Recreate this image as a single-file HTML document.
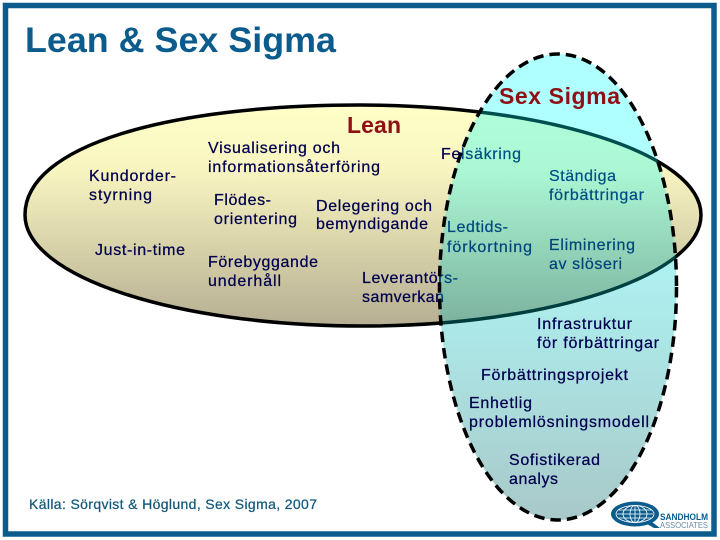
<!DOCTYPE html>
<html><head><meta charset="utf-8"><style>
html,body{margin:0;padding:0;background:#fff}
svg{display:block}
text{font-family:"Liberation Sans",sans-serif;}
.t{font-size:16px;fill:#00004f;stroke:#00004f;stroke-width:.25px}
.r{font-size:23px;font-weight:bold;fill:#8f0f16}
</style></head><body>
<svg width="720" height="540" viewBox="0 0 720 540" xmlns="http://www.w3.org/2000/svg">
<defs>
<linearGradient id="a" x1="0" y1="0" x2="0" y2="1"><stop offset="0" stop-color="#ffffc8"/><stop offset=".3" stop-color="#f8f4c0"/><stop offset="1" stop-color="#b6ae92"/></linearGradient>
<linearGradient id="b" x1="0" y1="0" x2="0" y2="1"><stop offset="0" stop-color="rgb(0,255,255)" stop-opacity=".31"/><stop offset=".25" stop-color="rgb(0,255,255)" stop-opacity=".31"/><stop offset="1" stop-color="rgb(0,94,94)" stop-opacity=".34"/></linearGradient>
</defs>
<rect x="5.500" y="5.500" width="708.500" height="528.500" fill="#fff" stroke="#0b5c8c" stroke-width="5.500"/>
<text x="25" y="52" font-size="35" font-weight="bold" fill="#0b5c8c" textLength="311" lengthAdjust="spacingAndGlyphs">Lean &amp; Sex Sigma</text>
<path d="M25 215C25 145 170 105 360 105C547 105 701 154 701 215C701 276 547 326 363 326C174 326 25 276 25 215Z" fill="url(#a)" stroke="#000" stroke-width="3.500"/>
<text class="r" x="347" y="133" textLength="54">Lean</text>
<text class="t" x="208" y="153" textLength="132">Visualisering och</text>
<text class="t" x="208" y="172" textLength="172">informationsåterföring</text>
<text class="t" x="441" y="159" textLength="80">Felsäkring</text>
<text class="t" x="549" y="181" textLength="67">Ständiga</text>
<text class="t" x="549" y="200" textLength="95">förbättringar</text>
<text class="t" x="89" y="181" textLength="87">Kundorder-</text>
<text class="t" x="89" y="200" textLength="63">styrning</text>
<text class="t" x="95" y="255" textLength="90">Just-in-time</text>
<text class="t" x="214" y="205" textLength="57">Flödes-</text>
<text class="t" x="214" y="224" textLength="83">orientering</text>
<text class="t" x="316" y="211" textLength="116">Delegering och</text>
<text class="t" x="316" y="229" textLength="112">bemyndigande</text>
<text class="t" x="447" y="232" textLength="61">Ledtids-</text>
<text class="t" x="447" y="252" textLength="85">förkortning</text>
<text class="t" x="549" y="250" textLength="86">Eliminering</text>
<text class="t" x="549" y="269" textLength="73">av slöseri</text>
<text class="t" x="208" y="267" textLength="110">Förebyggande</text>
<text class="t" x="208" y="286" textLength="73">underhåll</text>
<text class="t" x="362" y="283" textLength="96">Leverantörs-</text>
<text class="t" x="362" y="302" textLength="82">samverkan</text>
<ellipse cx="558" cy="287" rx="118.500" ry="233" fill="url(#b)"/>
<ellipse cx="558" cy="287" rx="118.500" ry="233" fill="none" stroke="#000" stroke-width="3.500" stroke-dasharray="10.500 6"/>
<text class="r" x="499" y="104" textLength="121">Sex Sigma</text>
<text class="t" x="537" y="329" textLength="95">Infrastruktur</text>
<text class="t" x="537" y="348" textLength="122">för förbättringar</text>
<text class="t" x="481" y="380" textLength="147">Förbättringsprojekt</text>
<text class="t" x="469" y="408" textLength="63">Enhetlig</text>
<text class="t" x="469" y="427" textLength="180">problemlösningsmodell</text>
<text class="t" x="509" y="465" textLength="91">Sofistikerad</text>
<text class="t" x="509" y="484" textLength="49">analys</text>
<text x="29" y="509" font-size="14" fill="#14597c" stroke="#14597c" stroke-width=".25" textLength="288">Källa: Sörqvist &amp; Höglund, Sex Sigma, 2007</text>
<ellipse cx="635" cy="514" rx="24" ry="12.500" fill="#0b5c8c"/>
<path d="M652 522l8 6h-6l-7-4z" fill="#0b5c8c"/>
<g fill="none" stroke="#fff" stroke-width=".8">
<ellipse cx="635" cy="514" rx="19" ry="8.500"/>
<ellipse cx="635" cy="514" rx="12" ry="8.500"/>
<ellipse cx="635" cy="514" rx="5" ry="8.500"/>
<path d="M635 505.500v17M617 514h36M619 510h32M619 518h32"/>
</g>
<text x="660" y="520" font-size="9" font-weight="bold" fill="#0b5c8c" textLength="48" lengthAdjust="spacingAndGlyphs">SANDHOLM</text>
<text x="660" y="528" font-size="8" fill="#6a8ca4" textLength="48" lengthAdjust="spacingAndGlyphs">ASSOCIATES</text>
</svg>
</body></html>
